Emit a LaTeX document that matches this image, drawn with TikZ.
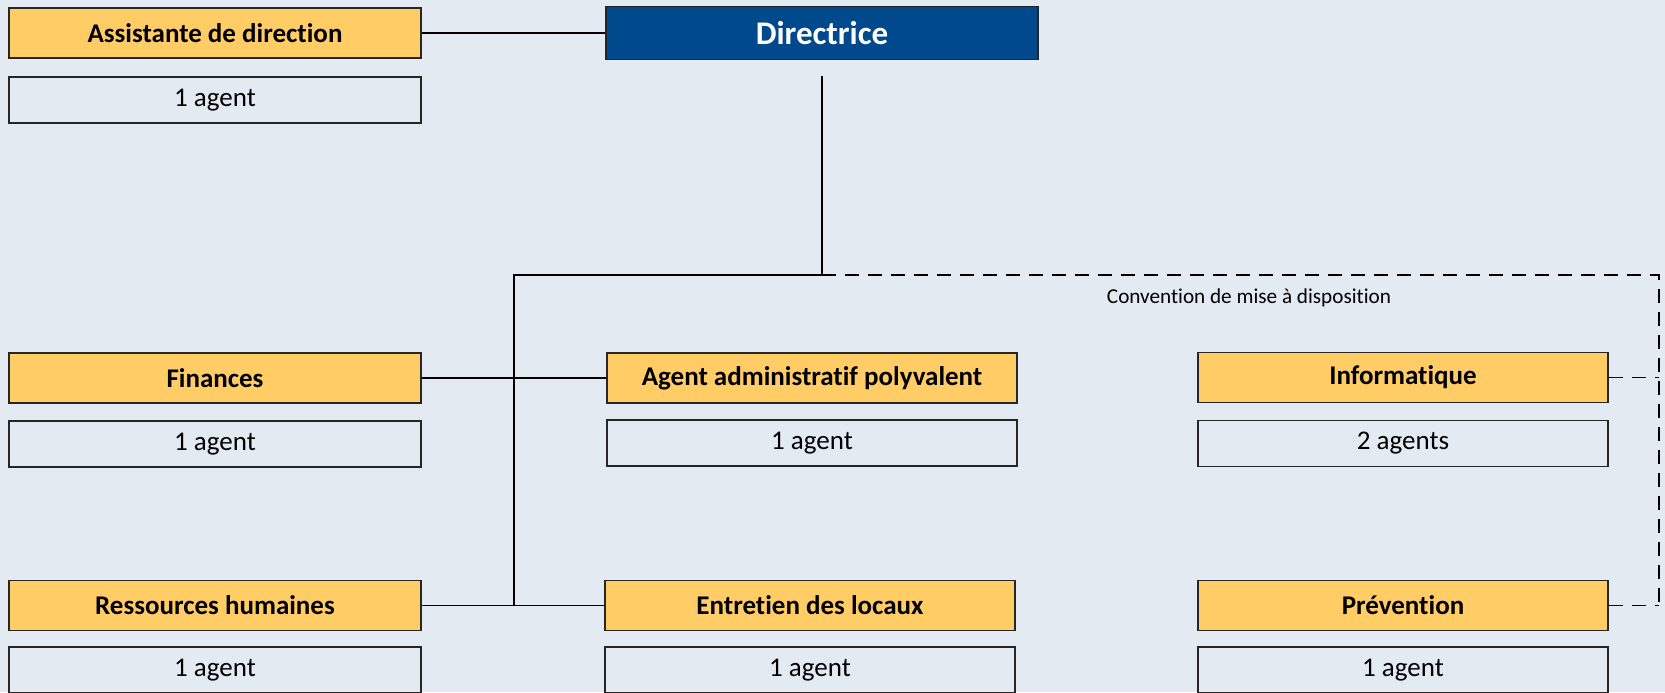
\documentclass[tikz,border=0pt]{standalone}
\usepackage{fontspec}
\setmainfont[Ligatures=NoCommon]{Carlito}
\definecolor{bg}{HTML}{E3EAF2}
\definecolor{org}{HTML}{FFCC66}
\definecolor{navy}{HTML}{00498D}
\begin{document}
\begin{tikzpicture}[x=0.5pt,y=-0.5pt,
  hdr/.style={draw=black!85, line width=0.6pt, fill=org, minimum width=205pt, minimum height=25pt, inner sep=0pt, font=\fontsize{13.5}{16}\selectfont\bfseries},
  cnt/.style={draw=black!85, line width=0.6pt, minimum width=205pt, minimum height=23pt, inner sep=0pt, font=\fontsize{13.5}{16}\selectfont},
  wide/.style={minimum width=206pt},
  link/.style={line width=0.9pt},
  dlink/.style={line width=0.9pt, dash pattern=on 7pt off 4.5pt}]
\fill[bg] (0,0) rectangle (1665,692);
\useasboundingbox (0,0) rectangle (1665,692);

% top row
\node[hdr,wide] (assist) at (215,33) {Assistante de direction};
\node[cnt,wide] (assistA) at (215,100) {1 agent};
\node[draw=black!85, line width=0.6pt, fill=navy, text=white, minimum width=216pt, minimum height=26.5pt, inner sep=0pt, font=\fontsize{16.5}{19}\selectfont\bfseries] (dir) at (822,33) {Directrice};

% middle row
\node[hdr,wide] (fin) at (215,378) {Finances};
\node[cnt,wide] (finA) at (215,444) {1 agent};
\node[hdr] (aap) at (812,378) {Agent administratif polyvalent};
\node[cnt] (aapA) at (812,443) {1 agent};
\node[hdr] (info) at (1403,377.5) {Informatique};
\node[cnt] (infoA) at (1403,443.5) {2 agents};

% bottom row
\node[hdr,wide] (rh) at (215,605.5) {Ressources humaines};
\node[cnt,wide] (rhA) at (215,670) {1 agent};
\node[hdr] (ent) at (810,605.5) {Entretien des locaux};
\node[cnt] (entA) at (810,670) {1 agent};
\node[hdr] (prev) at (1403,605.5) {Prévention};
\node[cnt] (prevA) at (1403,670) {1 agent};

% junction coordinates
\coordinate (dtop) at (822,76);
\coordinate (jmid) at (822,275);
\coordinate (jleft) at (514,275);
\coordinate (jbot) at (514,605.5);
\coordinate (jright) at (1659,275);
\coordinate (jinfo) at (1659,377.5);
\coordinate (jprev) at (1659,605.5);

% solid connectors
\draw[link] (assist.east) -- (dir.west);
\draw[link] (dtop) -- (jmid) -- (jleft) -- (jbot);
\draw[link] (fin.east) -- (aap.west);
\draw[link] (rh.east) -- (ent.west);

% dashed connectors
\draw[dlink] (jmid) -- (jright) -- (jprev);
\draw[dlink] (info.east) -- (jinfo);
\draw[dlink] (prev.east) -- (jprev);

\node[font=\fontsize{10.6}{13}\selectfont, inner sep=0pt] (conv) at (1249,298) {Convention de mise à disposition};
\end{tikzpicture}
\end{document}
